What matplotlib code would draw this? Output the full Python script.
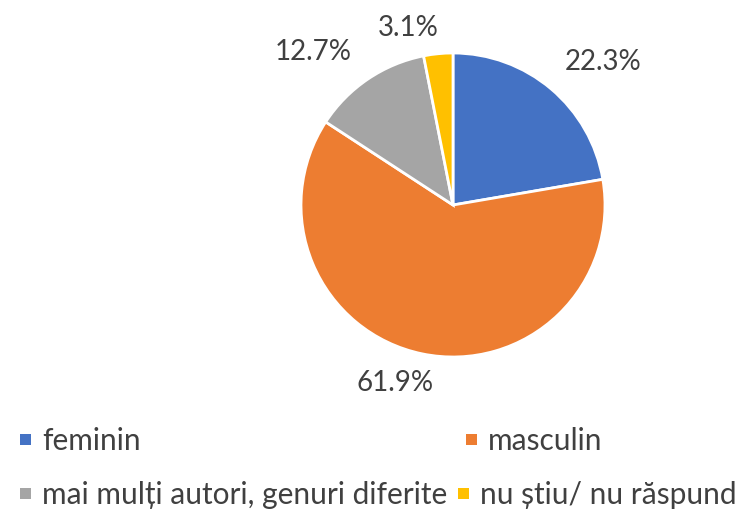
import matplotlib
matplotlib.use("Agg")
import matplotlib.pyplot as plt
from matplotlib.patches import Rectangle

categories = ["feminin", "masculin", "mai mulți autori, genuri diferite", "nu știu/ nu răspund"]
values = [22.3, 61.9, 12.7, 3.1]
labels = ["22.3%", "61.9%", "12.7%", "3.1%"]
colors = ["#4472C4", "#ED7D31", "#A5A5A5", "#FFC000"]

# label placement (data units, radius = 1)
label_pos = [(0.987, 0.947), (-0.382, -1.164), (-0.921, 1.013), (-0.296, 1.171)]

plt.rcParams['font.family'] = ['Lato', 'DejaVu Sans']
W, H = 746, 510
fig = plt.figure(figsize=(W / 100, H / 100), dpi=100)
cx, cy, r = 453, 206, 152
ax = fig.add_axes([(cx - r) / W, (H - cy - r) / H, 2 * r / W, 2 * r / H])
ax.pie(values, colors=colors, startangle=90, counterclock=False, radius=1,
       wedgeprops=dict(edgecolor="white", linewidth=2))
ax.set_xlim(-1, 1)
ax.set_ylim(-1, 1)
ax.set_aspect("equal")
ax.axis("off")
for (x, y), t in zip(label_pos, labels):
    ax.text(x, y, t, ha="center", va="center", fontsize=20, color="#404040", clip_on=False)

# legend
leg = [(20, 441), (466, 441), (20, 495), (458, 495)]
for (lx, ly), c, name in zip(leg, colors, categories):
    fig.patches.append(Rectangle((lx / W, (H - ly - 5) / H), 11 / W, 11 / H,
                                 transform=fig.transFigure, facecolor=c, edgecolor="none"))
    fig.text((lx + 22) / W, (H - ly) / H, name, ha="left", va="center",
             fontsize=21.5, color="#404040")

fig.savefig("out.png", dpi=100)
